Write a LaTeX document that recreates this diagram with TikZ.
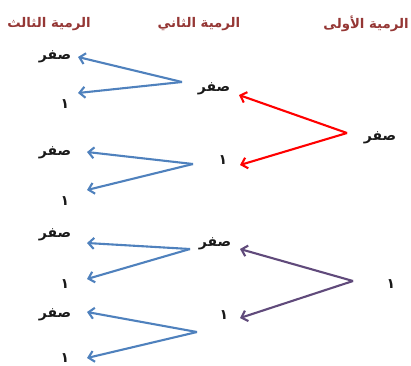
\documentclass[tikz,border=0pt]{standalone}
\usepackage{fontspec}
\newfontfamily\arabicfont[Script=Arabic]{DejaVu Sans}
\TeXXeTstate=1
\usetikzlibrary{arrows.meta}
\definecolor{hdr}{HTML}{953735}
\definecolor{bluearr}{HTML}{4F81BD}
\definecolor{purplearr}{HTML}{604A7B}
\definecolor{redarr}{HTML}{FF0000}
\begin{document}
\begin{tikzpicture}[x=1pt,y=-1pt,
  header/.style={font=\arabicfont\bfseries\fontsize{13.3}{15}\selectfont, text=hdr, inner sep=0pt, yshift=-2pt},
  val/.style={font=\arabicfont\bfseries\fontsize{14}{16}\selectfont, text=black!90, inner sep=0pt, yshift=-2.5pt},
  arr/.style={line width=2.1pt, -{Straight Barb[length=5.5pt,width=11pt]}},
  bluearrow/.style={arr, draw=bluearr},
  redarrow/.style={arr, draw=redarr},
  purplearrow/.style={arr, draw=purplearr}]
\useasboundingbox (0,0) rectangle (411,365);
% headers
\node[header] (h3) at (49,22) {\beginR الرمية الثالث\endR};
\node[header] (h2) at (199,22) {\beginR الرمية الثاني\endR};
\node[header] (h1) at (366,22) {\beginR الرمية الأولى\endR};
% first throw
\node[val] (a0) at (380,135) {\beginR صفر\endR};
\node[val] (a1) at (391,282) {\beginR ١\endR};
% second throw
\node[val] (b1) at (214,86) {\beginR صفر\endR};
\node[val] (b2) at (223,158) {\beginR ١\endR};
\node[val] (b3) at (215,241) {\beginR صفر\endR};
\node[val] (b4) at (224,313) {\beginR ١\endR};
% third throw
\node[val] (c1) at (55,54) {\beginR صفر\endR};
\node[val] (c2) at (65,102) {\beginR ١\endR};
\node[val] (c3) at (55,150) {\beginR صفر\endR};
\node[val] (c4) at (65,199) {\beginR ١\endR};
\node[val] (c5) at (55,232) {\beginR صفر\endR};
\node[val] (c6) at (65,282) {\beginR ١\endR};
\node[val] (c7) at (55,312) {\beginR صفر\endR};
\node[val] (c8) at (65,355.5) {\beginR ١\endR};
% branch points
\coordinate (va0) at (347,133);
\coordinate (va1) at (353,281);
\coordinate (vb1) at (182,82);
\coordinate (vb2) at (193,164);
\coordinate (vb3) at (190,249);
\coordinate (vb4) at (197,332);
% arrows
\draw[redarrow] (va0) -- ([xshift=25pt,yshift=-6.5pt]b1.center);
\draw[redarrow] (va0) -- ([xshift=17pt,yshift=-4.5pt]b2.center);
\draw[purplearrow] (va1) -- ([xshift=25pt,yshift=-5.5pt]b3.center);
\draw[purplearrow] (va1) -- ([xshift=16pt,yshift=-2.5pt]b4.center);
\draw[bluearrow] (vb1) -- ([xshift=23pt,yshift=-0.5pt]c1.center);
\draw[bluearrow] (vb1) -- ([xshift=13pt,yshift=11.5pt]c2.center);
\draw[bluearrow] (vb2) -- ([xshift=32pt,yshift=0.5pt]c3.center);
\draw[bluearrow] (vb2) -- ([xshift=22pt,yshift=11.5pt]c4.center);
\draw[bluearrow] (vb3) -- ([xshift=32pt,yshift=-8.5pt]c5.center);
\draw[bluearrow] (vb3) -- ([xshift=22pt,yshift=5.5pt]c6.center);
\draw[bluearrow] (vb4) -- ([xshift=32pt,yshift=2.5pt]c7.center);
\draw[bluearrow] (vb4) -- ([xshift=22pt,yshift=0pt]c8.center);
\end{tikzpicture}
\end{document}
